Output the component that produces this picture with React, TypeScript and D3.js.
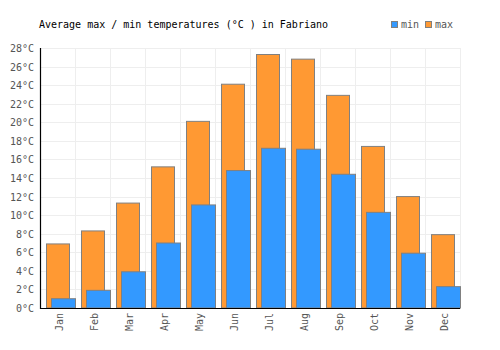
import React from "react";
import * as d3 from "d3";

const months = ["Jan","Feb","Mar","Apr","May","Jun","Jul","Aug","Sep","Oct","Nov","Dec"];
const maxTemps = [6.9, 8.3, 11.3, 15.2, 20.1, 24.1, 27.3, 26.8, 22.9, 17.4, 12.0, 7.9];
const minTemps = [1.0, 1.9, 3.9, 7.0, 11.1, 14.8, 17.2, 17.1, 14.4, 10.3, 5.9, 2.3];
const yTicks = [0,2,4,6,8,10,12,14,16,18,20,22,24,26,28];
const title = "Average max / min temperatures (°C ) in Fabriano";

const W = 500, H = 350;
const L = 40, R = 460, T = 48, B = 308;
const FONT = "'DejaVu Sans Mono', monospace";

export default function App() {
  const x = d3.scaleBand<string>().domain(months).range([L, R]).padding(0);
  const y = d3.scaleLinear().domain([0, 28]).range([B, T]);
  const bw = x.bandwidth();
  return (
    <svg width={W} height={H} style={{ position: "absolute", left: 0, top: 0 }} fontFamily={FONT}>
      <rect x={0} y={0} width={W} height={H} fill="#fff" />
      {/* grid */}
      {yTicks.map(t => (
        <line key={"gy"+t} x1={L} x2={R} y1={Math.round(y(t)) + 0.5} y2={Math.round(y(t)) + 0.5} stroke="#eeeeee" strokeWidth={1} />
      ))}
      {months.map((m, i) => (
        <line key={"gx"+m} x1={(x(m) as number) + 0.5} x2={(x(m) as number) + 0.5} y1={T} y2={B} stroke="#eeeeee" strokeWidth={1} />
      ))}
      <line x1={R + 0.5} x2={R + 0.5} y1={T} y2={B} stroke="#eeeeee" strokeWidth={1} />
      {/* bars */}
      {months.map((m, i) => {
        const x0 = x(m) as number;
        return (
          <g key={"b"+m}>
            <rect x={x0 + 6.5} y={y(maxTemps[i])} width={23} height={B - y(maxTemps[i])} fill="#ff9933" stroke="#808080" strokeWidth={1} />
            <rect x={x0 + 11.5} y={y(minTemps[i])} width={24} height={B - y(minTemps[i])} fill="#3399ff" stroke="#808080" strokeWidth={1} />
          </g>
        );
      })}
      {/* axes */}
      <line x1={L + 0.5} x2={L + 0.5} y1={T} y2={B + 1} stroke="#000" strokeWidth={1.2} />
      <line x1={L} x2={R} y1={B + 0.5} y2={B + 0.5} stroke="#000" strokeWidth={1.2} />
      {yTicks.map(t => (
        <text key={"yl"+t} x={34} y={y(t) + 4} textAnchor="end" fontSize={10} fill="#555">{t}°C</text>
      ))}
      {months.map(m => {
        const cx = (x(m) as number) + bw / 2 + 5;
        return (
          <text key={"xl"+m} transform={`translate(${cx},313) rotate(-90)`} textAnchor="end" fontSize={10} fill="#555">{m}</text>
        );
      })}
      {/* title */}
      <text x={39} y={28} fontSize={10} fill="#000">{title}</text>
      {/* legend */}
      <rect x={391.5} y={21.5} width={6} height={6} fill="#3399ff" stroke="#808080" strokeWidth={1} />
      <text x={401} y={28} fontSize={10} fill="#555">min</text>
      <rect x={425.5} y={21.5} width={6} height={6} fill="#ff9933" stroke="#808080" strokeWidth={1} />
      <text x={435} y={28} fontSize={10} fill="#555">max</text>
    </svg>
  );
}
